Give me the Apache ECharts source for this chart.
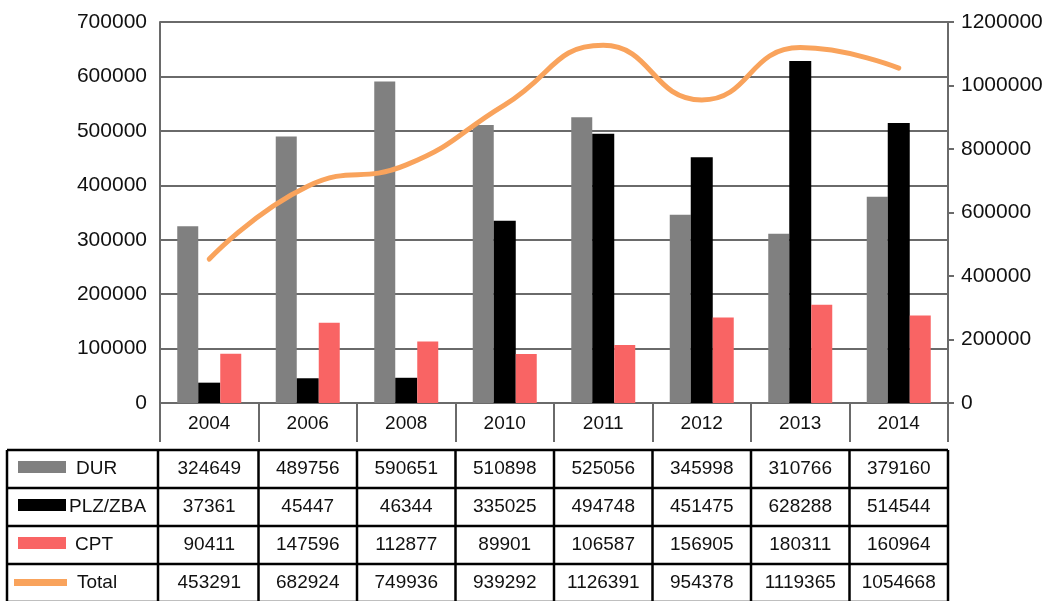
<!DOCTYPE html>
<html>
<head>
<meta charset="utf-8">
<script src="https://cdn.jsdelivr.net/npm/echarts@6/dist/echarts.min.js"></script>
<style>
  html, body { margin: 0; padding: 0; background: #fff; }
  #chart { width: 1052px; height: 601px; }
</style>
</head>
<body>
<div id="chart"></div>
<script>
const years = ["2004", "2006", "2008", "2010", "2011", "2012", "2013", "2014"];
const durData = [324649, 489756, 590651, 510898, 525056, 345998, 310766, 379160];
const plzData = [37361, 45447, 46344, 335025, 494748, 451475, 628288, 514544];
const cptData = [90411, 147596, 112877, 89901, 106587, 156905, 180311, 160964];
const totalData = [453291, 682924, 749936, 939292, 1126391, 954378, 1119365, 1054668];

const FONT = "'Liberation Sans', Arial, sans-serif";
const GRAY = "#808080";
const RED = "#f96464";
const ORANGE = "#f9a35c";
const AXIS = "#6a6a6a";

// plot area
const gridLeft = 160, gridRight = 948, gridTop = 22, gridBottom = 403;

// data table under the chart
const rows = [
  { name: "DUR", values: durData, color: GRAY, kind: "bar", textX: 76 },
  { name: "PLZ/ZBA", values: plzData, color: "#000", kind: "bar", textX: 69 },
  { name: "CPT", values: cptData, color: RED, kind: "bar", textX: 75 },
  { name: "Total", values: totalData, color: ORANGE, kind: "line", textX: 77 }
];

function buildTable() {
  const els = [];
  const top = 450, rowH = 38, left = 7;
  const colW = (gridRight - gridLeft) / years.length;
  const bottom = top + rowH * rows.length;
  const line = (x1, y1, x2, y2) => ({
    type: "line",
    shape: { x1, y1, x2, y2 },
    style: { stroke: "#000", lineWidth: 2.5 }
  });
  for (let r = 0; r <= rows.length; r++) {
    els.push(line(left, top + r * rowH, gridRight, top + r * rowH));
  }
  els.push(line(left, top, left, bottom));
  for (let c = 0; c <= years.length; c++) {
    const x = gridLeft + c * colW - (c === 0 ? 2 : 0);
    els.push(line(x, top, x, bottom));
  }
  rows.forEach((row, r) => {
    const cy = top + r * rowH + rowH / 2;
    if (row.kind === "bar") {
      els.push({ type: "rect", shape: { x: 18, y: cy - 8, width: 48, height: 12 }, style: { fill: row.color } });
    } else {
      els.push({ type: "rect", shape: { x: 14, y: cy - 4, width: 53, height: 7 }, style: { fill: row.color } });
    }
    els.push({
      type: "text",
      style: { text: row.name, x: row.textX, y: cy, fill: "#111", font: "19px " + FONT, align: "left", verticalAlign: "middle" }
    });
    row.values.forEach((v, c) => {
      els.push({
        type: "text",
        style: { text: String(v), x: gridLeft + c * colW + colW / 2, y: cy, fill: "#111", font: "19px " + FONT, align: "center", verticalAlign: "middle" }
      });
    });
  });
  return els;
}

const plain = (v) => String(v);

const chart = echarts.init(document.getElementById("chart"), null, { renderer: "canvas" });
chart.setOption({
  animation: false,
  backgroundColor: "#fff",
  textStyle: { fontFamily: FONT },
  grid: {
    left: gridLeft, right: 1052 - gridRight, top: gridTop, bottom: 601 - gridBottom,
    containLabel: false, outerBoundsMode: "none"
  },
  xAxis: [
    {
      type: "category",
      data: years,
      boundaryGap: true,
      axisLine: { show: true, lineStyle: { color: AXIS, width: 2 } },
      axisTick: { show: true, interval: 0, length: 39, lineStyle: { color: AXIS, width: 2 } },
      axisLabel: { interval: 0, margin: 11, fontSize: 19, color: "#111", fontFamily: FONT }
    },
    {
      type: "category",
      data: years,
      position: "bottom",
      offset: 39,
      axisLine: { show: true, lineStyle: { color: AXIS, width: 2 } },
      axisTick: { show: false },
      axisLabel: { show: false }
    }
  ],
  yAxis: [
    {
      type: "value",
      min: 0,
      max: 700000,
      interval: 100000,
      axisLine: { show: true, lineStyle: { color: AXIS, width: 2 } },
      axisTick: { show: false },
      axisLabel: { margin: 13, fontSize: 21, color: "#111", fontFamily: FONT, formatter: plain },
      splitLine: { show: true, lineStyle: { color: AXIS, width: 2 } }
    },
    {
      type: "value",
      min: 0,
      max: 1200000,
      interval: 200000,
      position: "right",
      axisLine: { show: true, lineStyle: { color: AXIS, width: 2 } },
      axisTick: { show: true, length: 6, lineStyle: { color: AXIS, width: 2 } },
      axisLabel: { margin: 13, fontSize: 21, color: "#111", fontFamily: FONT, formatter: plain },
      splitLine: { show: false }
    }
  ],
  series: [
    { name: "DUR", type: "bar", data: durData, barWidth: 21, barGap: "0%", itemStyle: { color: GRAY } },
    { name: "PLZ/ZBA", type: "bar", data: plzData, barWidth: 22, barGap: "0%", itemStyle: { color: "#000" } },
    { name: "CPT", type: "bar", data: cptData, barWidth: 21, barGap: "0%", itemStyle: { color: RED } },
    {
      name: "Total",
      type: "line",
      yAxisIndex: 1,
      data: totalData,
      smooth: 0.5,
      showSymbol: false,
      lineStyle: { color: ORANGE, width: 5, cap: "round" },
      itemStyle: { color: ORANGE },
      z: 5
    }
  ],
  graphic: buildTable()
});
</script>
</body>
</html>
